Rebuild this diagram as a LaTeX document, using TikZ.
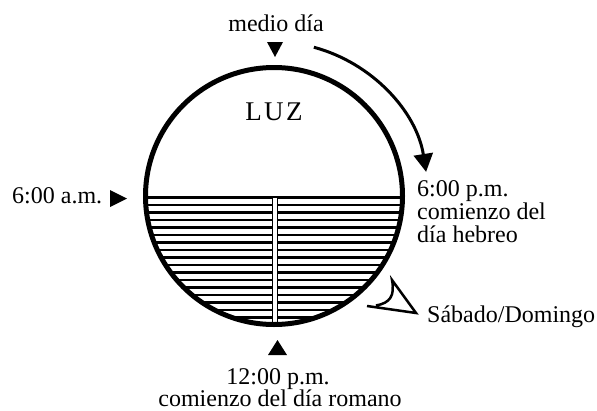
\documentclass[tikz,border=0pt]{standalone}
\usepackage{fontspec}
\setmainfont{Liberation Serif}
\usetikzlibrary{arrows.meta}
\tikzset{
  lbl/.style={inner sep=0pt, font=\fontsize{24}{23}\selectfont},
  rim/.style={line width=5pt},
  hatch/.style={line width=2.5pt},
  marker/.style={fill=black},
}
\begin{document}
\begin{tikzpicture}[x=1pt,y=-1pt]
\useasboundingbox (0,0) rectangle (597,410);
\coordinate (c) at (274,196);
% hatching of the lower half
\begin{scope}
  \clip (c) circle [radius=128.5];
  \foreach \k in {0,...,17} {
    \draw[hatch] (140,197.5+7.5*\k) -- (410,197.5+7.5*\k);
  }
  \fill[white] (272.5,197.5) rectangle (277.5,340);
  \draw[line width=1.5pt] (272.5,197.5) -- (272.5,340);
  \draw[line width=1.5pt] (277.5,197.5) -- (277.5,340);
\end{scope}
\draw[rim] (c) circle [radius=128.5];
% big arrow
\coordinate (arcstart) at ([shift={(-75:154)}]c);
\draw[line width=3pt, -{Triangle[length=18pt,width=19pt]}]
  (arcstart) arc [start angle=-75, end angle=-9, radius=154];
% markers
\fill[marker] (267,42) -- (283,42) -- (275,57) -- cycle;
\fill[marker] (110,190) -- (110,207) -- (127,198.5) -- cycle;
\fill[marker] (268,355) -- (287,355) -- (277.5,340) -- cycle;
% Sabado pointer
\draw[line width=2.5pt, line join=miter]
  (367,306) -- (416,313) -- (392,280) .. controls (395,296) and (390,303) .. (376,305.5);
% texts
\node[lbl, anchor=base] (medio) at (276,31) {medio día};
\node[inner sep=0pt, anchor=base, font=\fontsize{27}{27}\selectfont] (luz) at (274,120) {L\kern2.5pt U\kern2.5pt Z};
\node[lbl, anchor=base west] (am) at (12,203) {6:00 a.m.};
\node[lbl, anchor=base west] (pm1) at (417,196) {6:00 p.m.};
\node[lbl, anchor=base west] (pm2) at (417,219) {comienzo del};
\node[lbl, anchor=base west] (pm3) at (417,242) {día hebreo};
\node[lbl, anchor=base west] (sab) at (427,322) {Sábado/Domingo};
\node[lbl, anchor=base] (mid1) at (278,384) {12:00 p.m.};
\node[lbl, anchor=base] (mid2) at (280,406) {comienzo del día romano};
\end{tikzpicture}
\end{document}
